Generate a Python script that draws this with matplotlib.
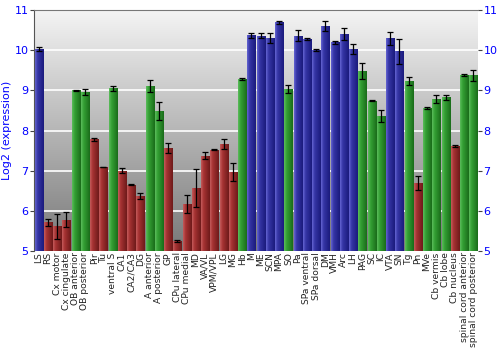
import numpy as np
import matplotlib
matplotlib.use("Agg")
import matplotlib.pyplot as plt
from matplotlib.colors import LinearSegmentedColormap

# brain regions, expression (log2) and error
regions = ["LS", "RS", "Cx motor", "Cx cingulate", "OB anterior", "OB posterior",
           "Pir", "Tu", "ventral S", "CA1", "CA2/CA3", "DG", "A anterior",
           "A posterior", "GP", "CPu lateral", "CPu medial", "MD", "VA/VL",
           "VPM/VPL", "LG", "MG", "Hb", "M", "ME", "SCN", "MPA", "SO", "Pa",
           "SPa ventral", "SPa dorsal", "DM", "VMH", "Arc", "LH", "PAG", "SC",
           "IC", "VTA", "SN", "Tg", "Pn", "MVe", "Cb vermis", "Cb lobe",
           "Cb nucleus", "spinal cord anterior", "spinal cord posterior"]
values = [10.04, 5.71, 5.61, 5.78, 9.00, 8.96, 7.78, 7.09, 9.05, 7.00, 6.65,
          6.37, 9.10, 8.48, 7.56, 5.25, 6.17, 6.56, 7.37, 7.52, 7.66, 6.97,
          9.28, 10.37, 10.36, 10.30, 10.70, 9.03, 10.36, 10.28, 10.00, 10.61,
          10.20, 10.40, 10.03, 9.49, 8.74, 8.36, 10.30, 9.98, 9.23, 6.69,
          8.56, 8.79, 8.83, 7.62, 9.38, 9.38]
errors = [0.05, 0.08, 0.30, 0.18, 0.01, 0.08, 0.04, 0.01, 0.07, 0.06, 0.01,
          0.07, 0.15, 0.22, 0.12, 0.03, 0.23, 0.47, 0.09, 0.01, 0.13, 0.22,
          0.03, 0.07, 0.06, 0.12, 0.04, 0.10, 0.14, 0.02, 0.02, 0.12, 0.04,
          0.15, 0.12, 0.20, 0.01, 0.15, 0.16, 0.31, 0.10, 0.17, 0.02, 0.10,
          0.06, 0.03, 0.02, 0.14]
# expression class: h = high, m = medium, l = low
levels = ["h", "l", "l", "l", "m", "m", "l", "l", "m", "l", "l", "l", "m",
          "m", "l", "l", "l", "l", "l", "l", "l", "l", "m", "h", "h", "h",
          "h", "m", "h", "h", "h", "h", "h", "h", "h", "m", "m", "m", "h",
          "h", "m", "l", "m", "m", "m", "l", "m", "m"]

shades = {
    "h": ["#6464d2", "#3636a6", "#1a1a7c"],
    "m": ["#5cbc5c", "#34a034", "#1a6c1a"],
    "l": ["#c45c5c", "#a63232", "#6e1a1a"],
}

fig = plt.figure(figsize=(5, 3.5), dpi=100)
ax = fig.add_axes([0.068, 0.283, 0.888, 0.688])

# vertical gray background gradient, light at the top
bg = np.linspace(0, 1, 256).reshape(-1, 1)
bg_cmap = LinearSegmentedColormap.from_list("bg", ["#f4f4f4", "#787878"])
ax.imshow(bg, cmap=bg_cmap, aspect="auto", origin="upper",
          extent=(0, 1, 0, 1), transform=ax.transAxes, zorder=0)

x = np.arange(len(regions))
bars = ax.bar(x, np.array(values) - 5, bottom=5, width=0.88, zorder=2)

# horizontal shading inside each bar
grad = np.linspace(0, 1, 64).reshape(1, -1)
for patch, lv in zip(bars.patches, levels):
    cmap = LinearSegmentedColormap.from_list(
        lv, [(0, shades[lv][0]), (0.3, shades[lv][1]), (1, shades[lv][2])])
    x0, y0 = patch.get_x(), patch.get_y()
    w, h = patch.get_width(), patch.get_height()
    patch.set_facecolor("none")
    patch.set_edgecolor("none")
    im = ax.imshow(grad, cmap=cmap, aspect="auto",
                   extent=(x0, x0 + w, y0, y0 + h), zorder=2)
    im.set_clip_path(patch)

ax.errorbar(x, values, yerr=errors, fmt="none", ecolor="black",
            elinewidth=0.9, capsize=2, capthick=0.9, zorder=4)

for yv in range(6, 11):
    ax.axhline(yv, color="white", lw=1.2, zorder=1)

ax.set_xlim(-0.5, len(regions) - 0.5)
ax.set_ylim(5, 11)
ax.set_yticks(range(5, 12))
ax.set_xticks(x)
ax.set_xticklabels(regions, rotation=90, fontsize=6.6, color="#222222")
ax.tick_params(axis="x", length=0, pad=1)
ax.tick_params(axis="y", labelsize=8, labelcolor="blue", length=3,
               color="#444444", left=True, right=True, labelright=True, pad=1)
ax.set_ylabel("Log2 (expression)", color="blue", fontsize=8, labelpad=2)

for side in ["bottom", "right"]:
    ax.spines[side].set_visible(False)
ax.spines["left"].set_color("#555555")
ax.spines["top"].set_color("#777777")

fig.savefig("out.png", dpi=100)
